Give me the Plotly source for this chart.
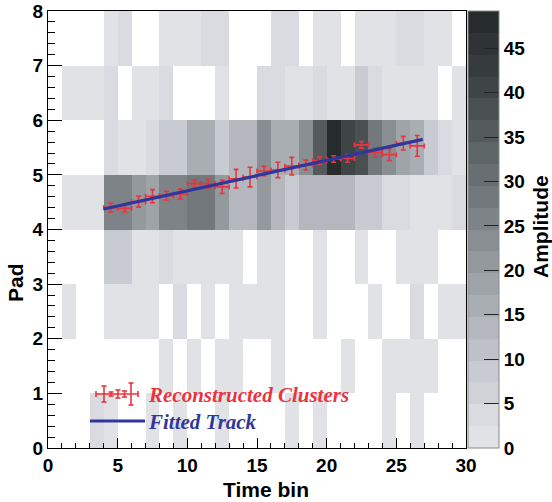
import plotly.graph_objects as go

# ---------------- data ----------------
time_bins = list(range(30))          # bin index 0..29 (centres at +0.5)
pad_bins = list(range(8))

amp_pad0 = [0,0,0,4,1,0,0,1,0,1,0,0,1,0,0,0,0,1,0,1,0,0,0,0,1,0,1,0,0,0]
amp_pad1 = [0,0,0,0,0,0,0,0,1,0,1,0,1,1,0,0,1,0,0,0,0,1,0,0,1,1,1,1,0,0]
amp_pad2 = [0,1,0,0,1,1,1,1,0,4,0,1,0,1,1,1,1,0,0,1,0,0,0,1,0,0,4,0,1,1]
amp_pad3 = [0,0,0,0,9,9,1,1,4,1,1,1,1,1,0,1,1,0,0,1,0,0,1,0,0,1,1,1,0,0]
amp_pad4 = [0,1,1,1,26,26,21,18,26,26,28,28,21,13,13,21,13,9,13,13,13,13,9,9,4,4,1,1,1,4]
amp_pad5 = [0,0,0,0,4,1,1,4,9,9,16,16,9,13,13,23,16,16,23,36,48,41,38,28,23,18,16,9,4,1]
amp_pad6 = [0,1,1,1,4,0,1,1,4,0,0,0,1,0,0,4,4,1,1,4,1,1,9,4,1,1,1,1,0,1]
amp_pad7 = [0,0,0,0,1,4,0,0,1,1,1,4,4,0,0,0,4,4,0,1,1,0,1,1,1,4,4,1,1,0]

cluster_time = [4.5, 5.5, 6.5, 7.5, 8.5, 9.5, 10.5, 11.5, 12.5, 13.5, 14.5, 15.5,
                16.5, 17.5, 18.5, 19.5, 20.5, 21.5, 22.5, 23.5, 24.5, 25.5, 26.5]
cluster_pad = [4.40, 4.39, 4.51, 4.61, 4.62, 4.65, 4.84, 4.84, 4.78, 4.93, 4.96, 5.07,
               5.09, 5.16, 5.18, 5.26, 5.29, 5.30, 5.55, 5.41, 5.37, 5.58, 5.53]
cluster_pad_err = [0.08, 0.07, 0.10, 0.12, 0.08, 0.09, 0.07, 0.08, 0.12, 0.17, 0.18, 0.085,
                   0.14, 0.16, 0.09, 0.07, 0.06, 0.07, 0.06, 0.085, 0.11, 0.125, 0.19]
cluster_time_err = [0.5] * len(cluster_time)

fit_time = [4.0, 26.9]
fit_pad = [4.375, 5.65]

amp_max = 49.2
cbar_ticks = [0, 5, 10, 15, 20, 25, 30, 35, 40, 45]

palette = ["#e1e2e6", "#d9dbe0", "#d0d2d8", "#c8cbd2", "#bec2c8", "#b4b8be", "#a9aeb3",
           "#9fa4a9", "#94999e", "#898e93", "#7d8387", "#72787b", "#686e71", "#5e6567",
           "#555b5d", "#4a5052", "#3f4547", "#363c3e", "#2e3435", "#262c2c"]

# ---------------- build ----------------
rows = [amp_pad0, amp_pad1, amp_pad2, amp_pad3, amp_pad4, amp_pad5, amp_pad6, amp_pad7]
z = [[(v if v > 0 else None) for v in r] for r in rows]

n = len(palette)
cscale = []
for k, c in enumerate(palette):
    cscale.append([k / n, c])
    cscale.append([(k + 1) / n, c])

RED = "#e8353f"
BLUE = "#2f379c"
SANS = "Liberation Sans, Arial, Helvetica, sans-serif"
SERIF = "Liberation Serif, Times New Roman, serif"

fig = go.Figure()
fig.add_trace(go.Heatmap(
    z=z, x=[t + 0.5 for t in time_bins], y=[p + 0.5 for p in pad_bins],
    zmin=0, zmax=amp_max, colorscale=cscale, hoverinfo="skip",
    colorbar=dict(
        x=1.0048, xanchor="left", xpad=0, y=0.5, yanchor="middle", ypad=0,
        len=1, lenmode="fraction", thickness=31, thicknessmode="pixels",
        tickvals=cbar_ticks, ticks="inside", ticklen=15, tickwidth=1, tickcolor="#222",
        tickfont=dict(family=SANS, size=19, color="black", weight="bold"),
        outlinewidth=1, outlinecolor="#8a8a8a",
    ),
))

fig.add_trace(go.Scatter(
    x=cluster_time, y=cluster_pad, mode="markers",
    marker=dict(size=2, color=RED),
    error_x=dict(type="data", array=cluster_time_err, color=RED, thickness=1.6, width=2.5),
    error_y=dict(type="data", array=cluster_pad_err, color=RED, thickness=1.6, width=2.5),
    showlegend=False, hoverinfo="skip",
))

fig.add_trace(go.Scatter(
    x=fit_time, y=fit_pad, mode="lines",
    line=dict(color=BLUE, width=3.2), showlegend=False, hoverinfo="skip",
))

# ---------------- layout ----------------
W, H = 552, 502
L, R, T, B = 48, 86, 11, 54
pw, ph = W - L - R, H - T - B

def xp(px):
    return (px - L) / pw

def yp(py):
    return (H - B - py) / ph

shapes = []
# legend: error-bar sample
ly = 394
shapes.append(dict(type="line", xref="paper", yref="paper", x0=xp(96), x1=xp(138), y0=yp(ly), y1=yp(ly),
                   line=dict(color=RED, width=1.6)))
for cx in (96, 138):
    shapes.append(dict(type="line", xref="paper", yref="paper", x0=xp(cx), x1=xp(cx), y0=yp(ly - 3), y1=yp(ly + 3),
                       line=dict(color=RED, width=1.6)))
for cx, half in ((104, 8), (111, 2), (118, 4), (124.5, 3), (131, 11)):
    shapes.append(dict(type="line", xref="paper", yref="paper", x0=xp(cx), x1=xp(cx),
                       y0=yp(ly - half), y1=yp(ly + half), line=dict(color=RED, width=1.6)))
    for cy in (ly - half, ly + half):
        shapes.append(dict(type="line", xref="paper", yref="paper", x0=xp(cx - 2.5), x1=xp(cx + 2.5),
                           y0=yp(cy), y1=yp(cy), line=dict(color=RED, width=1.6)))
# legend: fitted track sample
shapes.append(dict(type="line", xref="paper", yref="paper", x0=xp(90), x1=xp(145), y0=yp(421), y1=yp(421),
                   line=dict(color=BLUE, width=3.2)))

legend_font = dict(family=SERIF, size=21, weight="bold", style="italic")
annotations = [
    dict(text="Reconstructed Clusters", xref="paper", yref="paper", x=xp(146), y=yp(395),
         xanchor="left", yanchor="middle", showarrow=False, font=dict(legend_font, color=RED)),
    dict(text="Fitted Track", xref="paper", yref="paper", x=xp(146), y=yp(422),
         xanchor="left", yanchor="middle", showarrow=False, font=dict(legend_font, color=BLUE)),
    dict(text="<b>Time bin</b>", xref="paper", yref="paper", x=xp(266), y=yp(489),
         xanchor="center", yanchor="middle", showarrow=False, font=dict(family=SANS, size=21, color="black")),
    dict(text="<b>Pad</b>", xref="paper", yref="paper", x=xp(15), y=yp(283), textangle=-90,
         xanchor="center", yanchor="middle", showarrow=False, font=dict(family=SANS, size=21, color="black")),
    dict(text="<b>Amplitude</b>", xref="paper", yref="paper", x=xp(541), y=yp(227), textangle=-90,
         xanchor="center", yanchor="middle", showarrow=False, font=dict(family=SANS, size=21, color="black")),
]

axis_font = dict(family=SANS, size=19, color="black", weight="bold")

fig.update_layout(
    width=W, height=H, margin=dict(l=L, r=R, t=T, b=B, autoexpand=False),
    paper_bgcolor="white", plot_bgcolor="white",
    shapes=shapes, annotations=annotations,
    xaxis=dict(range=[0, 30], tickvals=[0, 5, 10, 15, 20, 25, 30], ticks="inside", ticklen=10,
               tickwidth=1, tickcolor="black", showline=True, linecolor="black", linewidth=1.2,
               mirror=True, showgrid=False, zeroline=False, tickfont=axis_font, automargin=False,
               minor=dict(dtick=1, ticks="inside", ticklen=5, tickcolor="black", tickwidth=1, showgrid=False)),
    yaxis=dict(range=[0, 8], tickvals=list(range(9)), ticks="inside", ticklen=14,
               tickwidth=1, tickcolor="black", showline=True, linecolor="black", linewidth=1.2,
               mirror=True, showgrid=False, zeroline=False, tickfont=axis_font, automargin=False,
               minor=dict(dtick=0.2, ticks="inside", ticklen=7, tickcolor="black", tickwidth=1, showgrid=False)),
)

fig.write_html("out.html", config={"displayModeBar": False},
               post_script="document.body.style.margin='0';document.body.style.padding='0';")
